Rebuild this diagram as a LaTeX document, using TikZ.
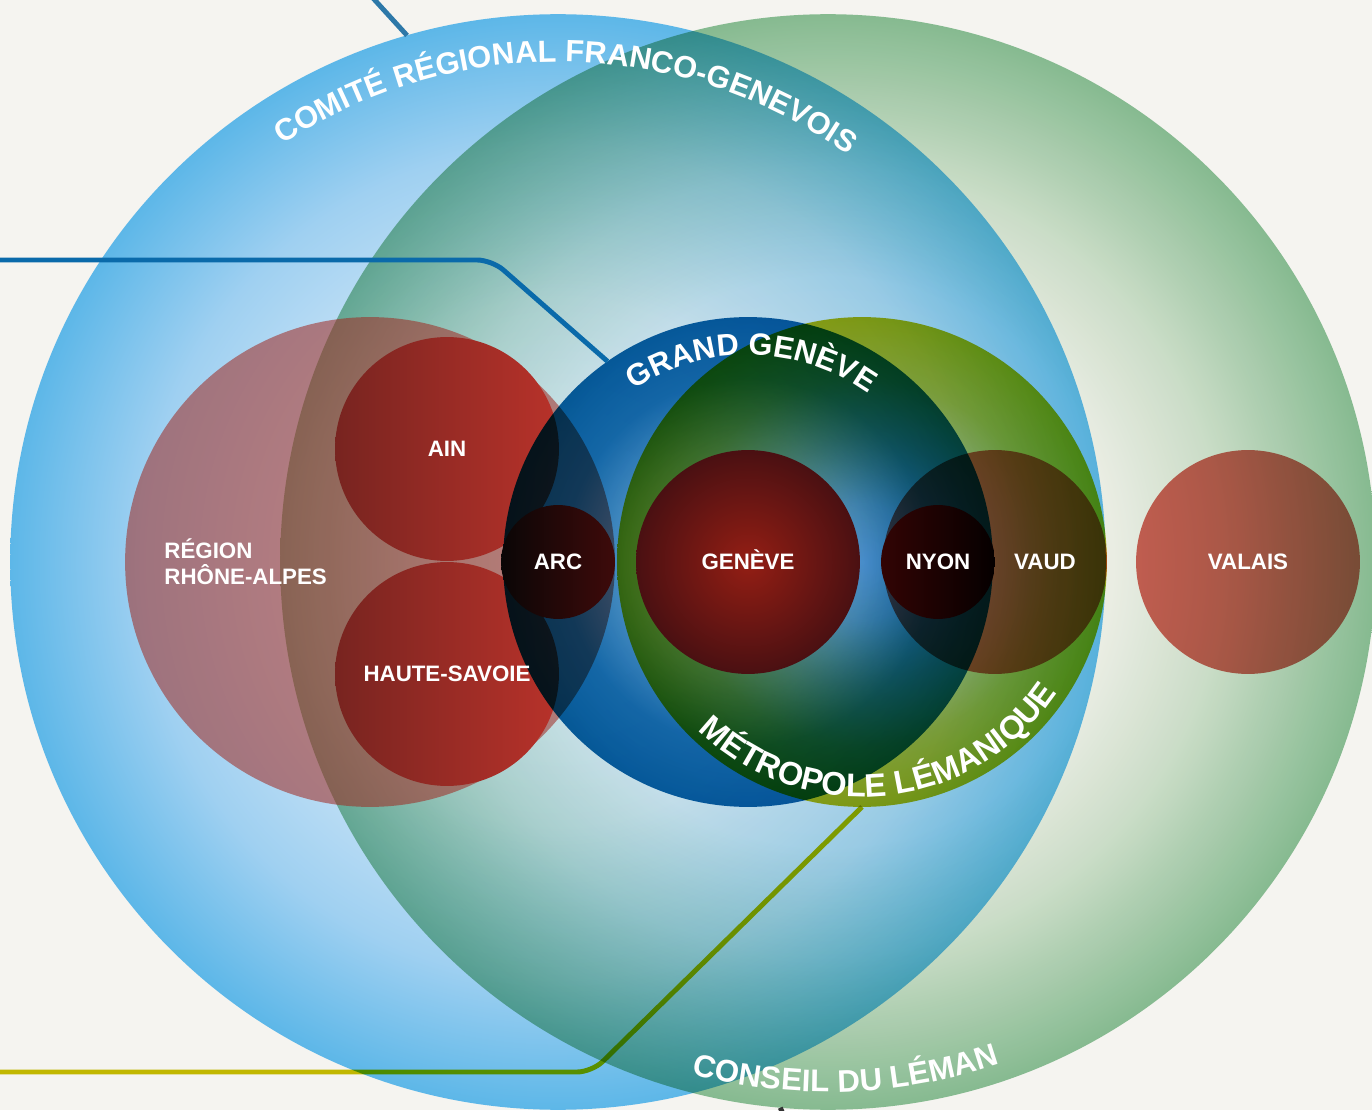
\documentclass[tikz,border=0pt]{standalone}
\usepackage{fontspec}
\setmainfont{Liberation Sans}
\setsansfont{Liberation Sans}
\usepackage{tikz}
\usetikzlibrary{positioning, decorations.text}

\definecolor{paper}{HTML}{F5F4F0}
\definecolor{crfgA}{HTML}{E2EFF9}
\definecolor{crfgB}{HTML}{CBE4F6}
\definecolor{crfgC}{HTML}{9FD0F1}
\definecolor{crfgD}{HTML}{5DB7E8}
\definecolor{lemanA}{HTML}{FFFFFF}
\definecolor{lemanB}{HTML}{F4F8F2}
\definecolor{lemanC}{HTML}{D3E7D4}
\definecolor{lemanD}{HTML}{8CC39A}
\definecolor{ggA}{HTML}{C4DDF1}
\definecolor{ggB}{HTML}{5A9ED2}
\definecolor{ggC}{HTML}{1A74B4}
\definecolor{ggD}{HTML}{0866A8}
\definecolor{mlA}{HTML}{FFFFFF}
\definecolor{mlB}{HTML}{F4F2DC}
\definecolor{mlC}{HTML}{D8D488}
\definecolor{mlE}{HTML}{C8C440}
\definecolor{mlD}{HTML}{C4BC18}
\definecolor{rared}{HTML}{A02820}
\definecolor{ainleft}{HTML}{782420}
\definecolor{ainright}{HTML}{B8322A}
\definecolor{arcleft}{HTML}{0A0606}
\definecolor{arcright}{HTML}{3E0A0A}
\definecolor{nyonleft}{HTML}{320404}
\definecolor{nyonright}{HTML}{050000}
\definecolor{genin}{HTML}{941E14}
\definecolor{genout}{HTML}{4A1012}
\definecolor{vdred}{HTML}{D8665C}
\definecolor{crfgline}{HTML}{2D78A8}
\definecolor{ggline}{HTML}{0A6AAA}
\definecolor{mlline}{HTML}{C9C000}
\definecolor{stubline}{HTML}{333333}

\pgfdeclareradialshading{crfgshade}{\pgfpoint{0bp}{0bp}}{color(0bp)=(crfgA); color(12bp)=(crfgB); color(19bp)=(crfgC); color(25bp)=(crfgD); color(50bp)=(crfgD)}
\pgfdeclareradialshading{lemanshade}{\pgfpoint{0bp}{0bp}}{color(0bp)=(lemanA); color(13bp)=(lemanB); color(18bp)=(lemanC); color(25bp)=(lemanD); color(50bp)=(lemanD)}
\pgfdeclareradialshading{ggshade}{\pgfpoint{0bp}{0bp}}{color(0bp)=(ggA); color(12.5bp)=(ggB); color(18.75bp)=(ggC); color(25bp)=(ggD); color(50bp)=(ggD)}
\pgfdeclareradialshading{mlshade}{\pgfpoint{0bp}{0bp}}{color(0bp)=(mlA); color(6bp)=(mlB); color(12.5bp)=(mlC); color(18.75bp)=(mlE); color(25bp)=(mlD); color(50bp)=(mlD)}

\newcommand\lblfont{\bfseries\fontsize{12.7pt}{14.8pt}\selectfont}

\begin{document}
\begin{tikzpicture}[font=\sffamily, x=0.02cm, y=0.02cm]
        % Setup the styles for the circles and the labels
        \tikzset{disc/.style={circle, inner sep=0pt, outer sep=0pt,
                              minimum size=#1*0.04cm},
                 mult/.style={blend mode=multiply},
                 lbl/.style={text=white, font=\lblfont, inner sep=0pt},
                 one line/.style={text height=9pt, text depth=0pt},
                 arc label/.style n args={2}{decorate,
                                   decoration={text along path,
                                               text align=center,
                                               text={|\bfseries\fontsize{#1}{#1}\selectfont\color{white}|#2}}},
                 link/.style={line width=2.8pt}}

        % Paper
        \useasboundingbox (0, 0) rectangle (1372, 1110);
        \fill[paper] (0, 0) rectangle (1372, 1110);
        \clip (0, 0) rectangle (1372, 1110);

        % Draw the circles
        \node[disc=548, shade, shading=crfgshade] at (558, 548) (crfg) {};
        \node[disc=548, shade, shading=lemanshade, mult] at (828, 548) (leman) {};
        \node[disc=245, fill=rared, fill opacity=0.55] at (370, 548) (ra) {};
        \node[disc=112, left color=ainleft, right color=ainright] at (447, 661) (ain) {};
        \node[disc=112, left color=ainleft, right color=ainright] at (447, 436) (hs) {};
        \node[disc=245, shade, shading=ggshade, mult] at (748, 548) (gg) {};
        \node[disc=245, shade, shading=mlshade, mult] at (862, 548) (ml) {};
        \node[disc=57, left color=arcleft, right color=arcright] at (558, 548) (arc) {};
        \node[disc=112, inner color=genin, outer color=genout] at (748, 548) (geneve) {};
        \node[disc=112, fill=vdred, mult] at (995, 548) (vaud) {};
        \node[disc=57, left color=nyonleft, right color=nyonright] at (938, 548) (nyon) {};
        \node[disc=112, fill=vdred, mult] at (1248, 548) (valais) {};

        % Connect the circles to the margins
        \coordinate (crfg end) at (372, 1113);
        \coordinate (gg end) at (-5, 850);
        \coordinate (gg bend) at (492, 850);
        \coordinate (ml end) at (-5, 38);
        \coordinate (ml bend) at (592, 38);
        \coordinate (leman end) at (784, -6);
        \draw[link, draw=crfgline] (crfg.106) -- (crfg end);
        \draw[link, draw=ggline, rounded corners=0.3cm] (gg end) -- (gg bend) -- (gg.125);
        \draw[link, draw=mlline, rounded corners=0.3cm, mult] (ml end) -- (ml bend) -- (ml.270);
        \draw[link, draw=stubline] (leman.265) -- (leman end);

        % Curved titles
        \path[arc label={17.5pt}{COMITÉ RÉGIONAL FRANCO-GENEVOIS}]
            (crfg.center) ++(169:500) arc[start angle=169, end angle=9, radius=500];
        \path[arc label={17.8pt}{CONSEIL DU LÉMAN}]
            (leman.center) ++(222:530) arc[start angle=222, end angle=322, radius=530];
        \path[arc label={17.5pt}{GRAND GENÈVE}]
            (gg.center) ++(169:207) arc[start angle=169, end angle=9, radius=207];
        \path[arc label={18.6pt}{MÉTROPOLE LÉMANIQUE}]
            (ml.center) ++(186:235) arc[start angle=186, end angle=366, radius=235];

        % Names inside the circles
        \node[lbl, align=left, right=0.78cm of ra.west] (ra label) {RÉGION\\RHÔNE-ALPES};
        \node[lbl, one line] at (ain) (ain label) {AIN};
        \node[lbl, one line] at (hs) (hs label) {HAUTE-SAVOIE};
        \node[lbl, one line] at (arc) (arc label) {ARC};
        \node[lbl, one line] at (geneve) (geneve label) {GENÈVE};
        \node[lbl, one line] at (nyon) (nyon label) {NYON};
        \node[lbl, one line] at (1045, 548) (vaud label) {VAUD};
        \node[lbl, one line] at (valais) (valais label) {VALAIS};
\end{tikzpicture}
\end{document}
